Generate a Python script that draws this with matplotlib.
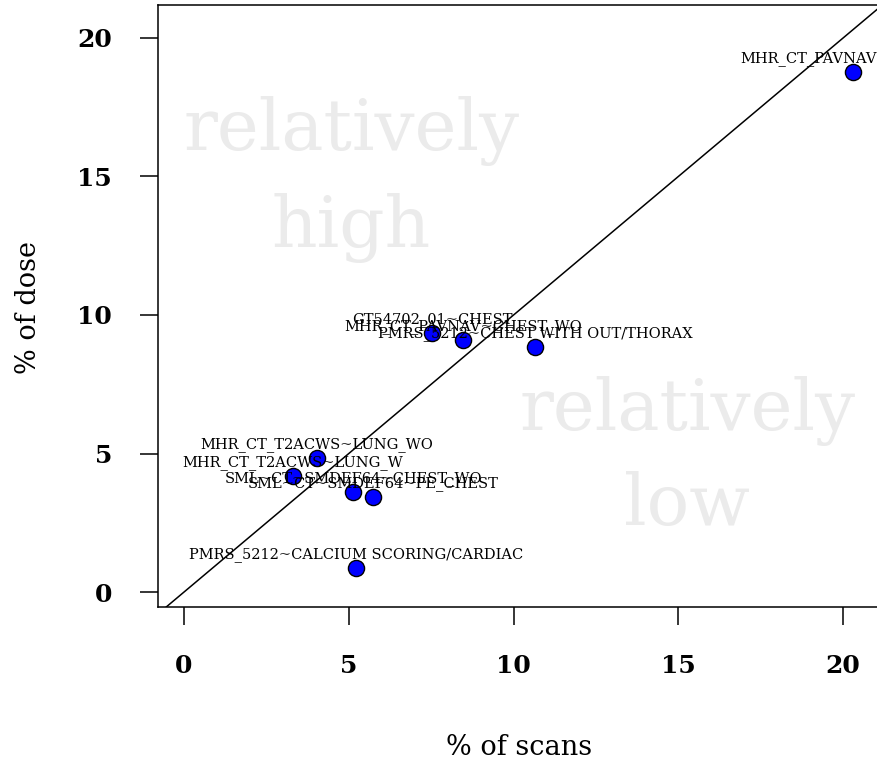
import matplotlib
matplotlib.use("Agg")
import matplotlib.pyplot as plt

plt.rcParams['font.family'] = ['DejaVu Serif']

# share of scans vs share of dose per protocol
protocols = ["MHR_CT_PAVNAV~CHEST_W",
             "GT54702_01~CHEST",
             "MHR_CT_PAVNAV~CHEST_WO",
             "PMRS_5212~CHEST WITH OUT/THORAX",
             "MHR_CT_T2ACWS~LUNG_WO",
             "MHR_CT_T2ACWS~LUNG_W",
             "SML~CT~SMDEF64~CHEST_WO",
             "SML~CT~SMDEF64~PE_CHEST",
             "PMRS_5212~CALCIUM SCORING/CARDIAC"]
pct_scans = [20.30, 7.53, 8.47, 10.65, 4.04, 3.31, 5.13, 5.74, 5.22]
pct_dose = [18.77, 9.35, 9.10, 8.84, 4.84, 4.19, 3.61, 3.43, 0.87]
ticks = [0, 5, 10, 15, 20]

fig = plt.figure(figsize=(8.77, 7.66), dpi=100)
ax = fig.add_axes([0.1802, 0.2076, 0.8244, 0.7859])
ax.set_xlim(-0.789, 21.15)
ax.set_ylim(-0.54, 21.19)

# background region labels
wm = dict(color='#EBEBEB', fontsize=51, ha='center', va='baseline', zorder=0)
ax.text(5.07, 15.96, "relatively", **wm)
ax.text(5.07, 12.45, "high", **wm)
ax.text(15.27, 5.85, "relatively", **wm)
ax.text(15.27, 2.42, "low", **wm)

ax.axline((0, 0), slope=1, color='black', lw=1.1, zorder=1)

ax.scatter(pct_scans, pct_dose, s=135, c='#0000FF', edgecolors='black',
           linewidths=1.0, zorder=3)
for name, x, y in zip(protocols, pct_scans, pct_dose):
    ax.annotate(name, (x, y), xytext=(0, 7), textcoords='offset points',
                ha='center', va='baseline', fontsize=10.5, zorder=4)

ax.set_xticks(ticks)
ax.set_yticks(ticks)
ax.tick_params(direction='out', length=13, width=1.1)
ax.tick_params(axis='x', pad=21)
ax.tick_params(axis='y', pad=20)
for lab in ax.get_xticklabels() + ax.get_yticklabels():
    lab.set_fontweight('bold')
    lab.set_fontsize(18)
for sp in ax.spines.values():
    sp.set_linewidth(1.1)

ax.set_xlabel("% of scans", fontsize=19.5, va='center')
ax.xaxis.set_label_coords(0.5, -0.234)
fig.text(28 / 877, 1 - 308 / 766, "% of dose", rotation=90, fontsize=19.5,
         ha='center', va='center')

fig.savefig("out.png", dpi=100)
